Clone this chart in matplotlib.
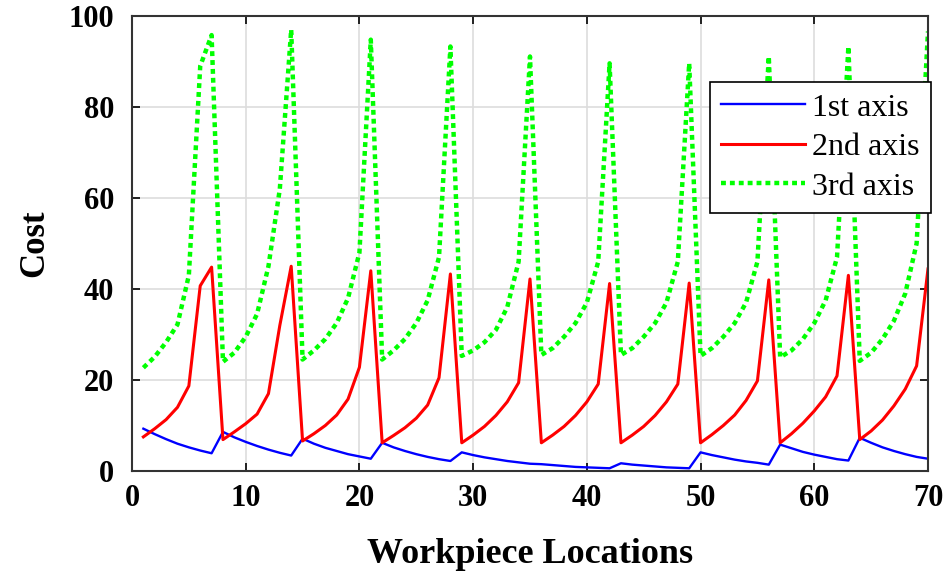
import numpy as np
import matplotlib.pyplot as plt

# workpiece locations 1..70
locations = np.arange(1, 71)

cost_axis1 = [9.3, 8.1, 7.0, 6.0, 5.2, 4.5, 3.9,
              8.6, 7.4, 6.4, 5.5, 4.7, 4.0, 3.4,
              7.1, 6.0, 5.1, 4.4, 3.7, 3.2, 2.7,
              6.2, 5.2, 4.4, 3.7, 3.1, 2.6, 2.2,
              4.1, 3.5, 3.0, 2.6, 2.2, 1.9, 1.6,
              1.5, 1.3, 1.1, 0.9, 0.8, 0.7, 0.6,
              1.7, 1.4, 1.2, 1.0, 0.8, 0.7, 0.6,
              4.1, 3.5, 3.0, 2.5, 2.1, 1.8, 1.4,
              5.8, 5.0, 4.2, 3.6, 3.1, 2.6, 2.3,
              7.3, 6.2, 5.2, 4.4, 3.7, 3.1, 2.7]

cost_axis2 = [7.5, 9.3, 11.3, 14.0, 18.7, 40.7, 44.8,
              6.9, 8.6, 10.4, 12.5, 17.0, 32.0, 45.0,
              6.6, 8.2, 10.0, 12.3, 15.8, 22.8, 44.0,
              6.2, 7.8, 9.5, 11.6, 14.5, 20.5, 43.3,
              6.2, 7.9, 9.8, 12.2, 15.2, 19.4, 42.2,
              6.2, 7.9, 9.8, 12.2, 15.2, 19.1, 41.2,
              6.2, 7.9, 9.8, 12.2, 15.2, 19.1, 41.3,
              6.2, 8.0, 10.0, 12.3, 15.5, 19.8, 42.0,
              6.2, 8.2, 10.5, 13.2, 16.3, 20.9, 43.0,
              6.9, 8.8, 11.2, 14.3, 18.0, 23.1, 44.4]

cost_axis3 = [22.7, 25.1, 28.3, 32.2, 43.0, 89.0, 95.8,
              24.0, 26.0, 29.5, 34.5, 45.0, 62.0, 97.0,
              24.5, 26.5, 29.0, 32.5, 38.0, 48.0, 94.8,
              24.5, 26.5, 29.0, 32.5, 37.5, 47.0, 93.3,
              25.3, 26.5, 28.3, 31.0, 36.0, 46.0, 91.1,
              25.5, 27.0, 29.5, 32.5, 37.0, 46.0, 89.6,
              25.5, 27.0, 29.5, 32.5, 37.0, 46.0, 89.6,
              25.3, 27.0, 29.5, 32.5, 37.0, 46.0, 91.1,
              25.0, 26.5, 29.0, 32.5, 37.5, 47.0, 93.3,
              24.2, 26.0, 29.0, 33.0, 39.0, 50.0, 96.6]

series_labels = ['1st axis', '2nd axis', '3rd axis']
x_ticks = [0, 10, 20, 30, 40, 50, 60, 70]
y_ticks = [0, 20, 40, 60, 80, 100]

plt.rcParams['font.family'] = ['Liberation Serif', 'DejaVu Serif']

fig = plt.figure(figsize=(9.51, 5.77), dpi=100)
ax = fig.add_axes([0.1388, 0.1837, 0.8370, 0.7886])

ax.plot(locations, cost_axis1, color='#0000ff', lw=1.7, label=series_labels[0])
ax.plot(locations, cost_axis2, color='#ff0000', lw=2.2, label=series_labels[1])
ax.plot(locations, cost_axis3, color='#00ff00', lw=3.2, linestyle=(0, (1.1, 0.9)),
        label=series_labels[2])

ax.set_xlim(0, 70)
ax.set_ylim(0, 100)
ax.set_xticks(x_ticks)
ax.set_yticks(y_ticks)
ax.grid(True, color='#dddddd', lw=1.2)
ax.set_axisbelow(True)
ax.tick_params(direction='in', top=True, right=True, length=6, width=1.2,
               labelsize=22)
ax.tick_params(axis='x', pad=9)
ax.tick_params(axis='y', pad=13)
for lbl in ax.get_xticklabels() + ax.get_yticklabels():
    lbl.set_fontweight('bold')
for sp in ax.spines.values():
    sp.set_linewidth(1.5)
    sp.set_color('#333333')

ax.set_xlabel('Workpiece Locations', fontsize=26, fontweight='bold')
ax.set_ylabel('Cost', fontsize=25, fontweight='bold')
ax.xaxis.set_label_coords(0.5, -0.148)
ax.yaxis.set_label_coords(-0.102, 0.5)

leg = ax.legend(loc='upper right', bbox_to_anchor=(1.004, 0.855), fontsize=23,
                handlelength=2.6, handletextpad=0.25, borderpad=0.35,
                labelspacing=0.32, fancybox=False, framealpha=1,
                edgecolor='black', borderaxespad=0)
leg.get_frame().set_linewidth(1.2)

fig.savefig('out.png', dpi=100)
